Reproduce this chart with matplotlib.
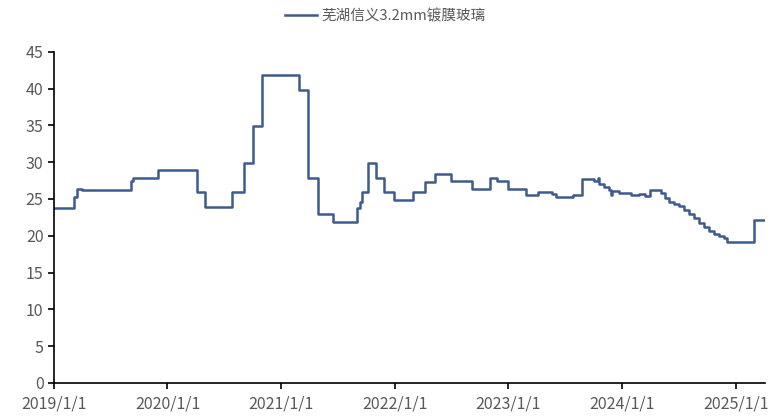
import matplotlib
matplotlib.use('Agg')
import matplotlib.pyplot as plt
import matplotlib.dates as mdates
import numpy as np
import pandas as pd

plt.rcParams['font.family'] = ['Noto Sans CJK SC', 'DejaVu Sans']

series_name = '芜湖信义3.2mm镀膜玻璃'

# price change points (step series)
dates = [
    '2019-01-01', '2019-03-06', '2019-03-15', '2019-04-01', '2019-09-05', '2019-09-12',
    '2019-12-03', '2020-04-04', '2020-04-30', '2020-07-25', '2020-09-02', '2020-10-01',
    '2020-10-30', '2021-02-27', '2021-03-27', '2021-04-28', '2021-06-15', '2021-08-31',
    '2021-09-10', '2021-09-16', '2021-10-08', '2021-10-31', '2021-11-26', '2021-12-31',
    '2022-02-27', '2022-04-07', '2022-05-09', '2022-06-30', '2022-09-05', '2022-11-04',
    '2022-11-27', '2023-01-01', '2023-02-28', '2023-04-05', '2023-05-22', '2023-06-04',
    '2023-07-28', '2023-08-26', '2023-10-04', '2023-10-18', '2023-10-21', '2023-11-05',
    '2023-11-21', '2023-11-28', '2023-11-30', '2023-12-23', '2024-01-31', '2024-02-26',
    '2024-03-16', '2024-04-01', '2024-05-07', '2024-05-20', '2024-06-02', '2024-06-18',
    '2024-07-04', '2024-07-20', '2024-08-05', '2024-08-21', '2024-09-06', '2024-09-22',
    '2024-10-08', '2024-10-24', '2024-11-09', '2024-11-25', '2024-12-04', '2025-02-26',
    '2025-03-01', '2025-04-03',
]
prices = [
    23.8, 25.2, 26.4, 26.2, 27.5, 27.9,
    28.9, 25.9, 23.9, 25.9, 29.9, 34.9,
    41.9, 39.8, 27.9, 22.9, 21.9, 23.8,
    24.6, 25.9, 29.9, 27.9, 25.9, 24.9,
    25.9, 27.3, 28.4, 27.4, 26.4, 27.9,
    27.4, 26.4, 25.5, 25.9, 25.7, 25.2,
    25.5, 27.7, 27.4, 27.8, 27.0, 26.6,
    26.2, 25.6, 26.1, 25.8, 25.5, 25.7,
    25.4, 26.2, 25.8, 25.1, 24.6, 24.3,
    24.0, 23.5, 22.9, 22.4, 21.8, 21.2,
    20.7, 20.2, 19.9, 19.7, 19.2, 19.2,
    22.1, 22.1,
]

line_color = '#3F5A8D'
grey = '#595959'

dt = pd.to_datetime(dates)

fig = plt.figure(figsize=(7.71, 4.18), dpi=100)
ax = fig.add_axes([0.070, 0.084, 0.922, 0.792])

ax.plot(dt, prices, drawstyle='steps-post', color=line_color, lw=1.8, label=series_name)

ax.set_ylim(0, 45)
ax.set_yticks(np.arange(0, 46, 5))
ax.set_xlim(pd.Timestamp('2019-01-01'), pd.Timestamp('2025-04-05'))
ax.set_xticks(pd.to_datetime(['%d-01-01' % y for y in range(2019, 2026)]))
ax.xaxis.set_major_formatter(mdates.DateFormatter('%Y/%-m/%-d'))

for s in ['top', 'right']:
    ax.spines[s].set_visible(False)
for s in ['left', 'bottom']:
    ax.spines[s].set_color('black')
    ax.spines[s].set_linewidth(1.2)

ax.tick_params(axis='both', direction='out', length=4, width=1.2, color='black',
               labelcolor=grey, labelsize=11.5)
ax.tick_params(axis='x', pad=5)

fig.legend(loc='upper center', bbox_to_anchor=(0.5, 1.01), frameon=False,
           fontsize=10.5, handlelength=2.2, handletextpad=0.3, labelcolor=grey)

fig.savefig('out.png', dpi=100)
